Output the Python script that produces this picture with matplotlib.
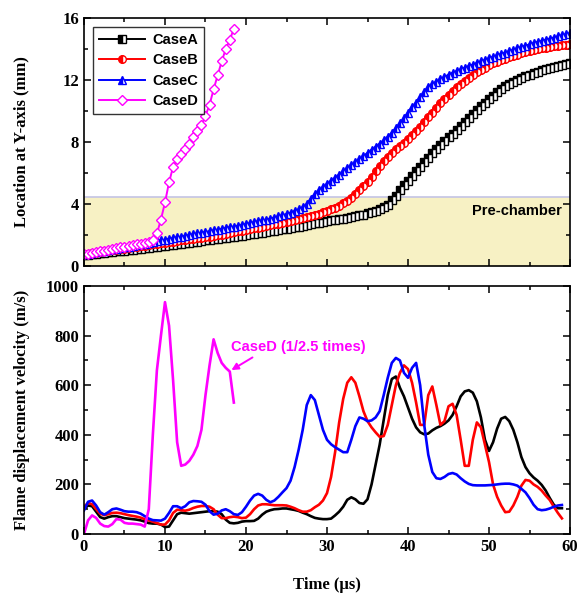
#!/usr/bin/env python3

import numpy as np
import matplotlib as mpl
import matplotlib.pyplot as plt
from matplotlib.ticker import MultipleLocator

# global plot style
mpl.rcParams['font.family'] = 'Liberation Serif'
mpl.rcParams['font.weight'] = 'bold'
mpl.rcParams['axes.linewidth'] = 1.2

# flame front location (mm), sampled every 0.5 us
time_pos = np.arange(0, 60.01, 0.5)
time_pos_d = np.arange(0, 18.51, 0.5)

loc_a = [0.70, 0.73, 0.76, 0.79, 0.82, 0.85, 0.88, 0.91, 0.94, 0.97, 1.00,
         1.03, 1.06, 1.09, 1.12, 1.15, 1.18, 1.21, 1.24, 1.27, 1.30,
         1.33, 1.37, 1.40, 1.44, 1.47, 1.51, 1.54, 1.58, 1.61, 1.65,
         1.68, 1.72, 1.75, 1.79, 1.82, 1.86, 1.89, 1.93, 1.96, 2.00,
         2.04, 2.08, 2.12, 2.16, 2.20, 2.24, 2.28, 2.32, 2.36, 2.40,
         2.45, 2.50, 2.55, 2.60, 2.65, 2.70, 2.75, 2.80, 2.85, 2.90,
         2.94, 2.98, 3.02, 3.06, 3.10, 3.15, 3.20, 3.26, 3.32, 3.40,
         3.47, 3.55, 3.65, 3.78, 3.95, 4.25, 4.55, 4.90, 5.20, 5.50,
         5.80, 6.10, 6.40, 6.70, 7.00, 7.30, 7.55, 7.80, 8.05, 8.30,
         8.55, 8.80, 9.05, 9.30, 9.55, 9.80, 10.05, 10.30, 10.55, 10.80,
         11.00, 11.20, 11.40, 11.60, 11.75, 11.90, 12.03, 12.15, 12.25, 12.35,
         12.45, 12.55, 12.63, 12.70, 12.78, 12.85, 12.92, 13.00, 13.05, 13.10]

loc_b = [0.75, 0.78, 0.82, 0.86, 0.90, 0.94, 0.98, 1.02, 1.06, 1.09, 1.12,
         1.16, 1.20, 1.24, 1.28, 1.32, 1.36, 1.40, 1.43, 1.46, 1.50,
         1.53, 1.57, 1.61, 1.65, 1.68, 1.72, 1.76, 1.79, 1.82, 1.86,
         1.90, 1.94, 1.98, 2.03, 2.08, 2.13, 2.18, 2.23, 2.28, 2.33,
         2.38, 2.43, 2.48, 2.53, 2.58, 2.63, 2.68, 2.73, 2.78, 2.84,
         2.90, 2.96, 3.02, 3.08, 3.15, 3.22, 3.30, 3.38, 3.46, 3.55,
         3.65, 3.77, 3.90, 4.05, 4.20, 4.40, 4.65, 4.90, 5.15, 5.45,
         5.75, 6.10, 6.45, 6.80, 7.05, 7.30, 7.55, 7.75, 7.95, 8.20,
         8.45, 8.70, 9.00, 9.30, 9.60, 9.90, 10.20, 10.50, 10.80, 11.05,
         11.30, 11.55, 11.75, 11.95, 12.15, 12.35, 12.50, 12.65, 12.80, 12.95,
         13.07, 13.18, 13.28, 13.38, 13.47, 13.56, 13.64, 13.72, 13.80, 13.87,
         13.93, 13.99, 14.04, 14.09, 14.13, 14.17, 14.21, 14.24, 14.27, 14.30]

loc_c = [0.75, 0.80, 0.85, 0.90, 0.95, 1.00, 1.04, 1.08, 1.12, 1.16, 1.20,
         1.25, 1.30, 1.35, 1.40, 1.45, 1.50, 1.55, 1.60, 1.65, 1.70,
         1.75, 1.80, 1.85, 1.90, 1.95, 2.00, 2.05, 2.10, 2.15, 2.20,
         2.25, 2.30, 2.35, 2.40, 2.45, 2.50, 2.55, 2.60, 2.65, 2.70,
         2.76, 2.82, 2.88, 2.94, 3.00, 3.06, 3.13, 3.20, 3.28, 3.36,
         3.45, 3.55, 3.65, 3.80, 4.00, 4.35, 4.65, 4.90, 5.10, 5.30,
         5.50, 5.70, 5.90, 6.10, 6.30, 6.50, 6.70, 6.90, 7.10, 7.30,
         7.50, 7.70, 7.90, 8.10, 8.35, 8.60, 8.90, 9.20, 9.55, 9.90,
         10.25, 10.55, 10.90, 11.25, 11.55, 11.75, 11.90, 12.05, 12.20, 12.35,
         12.47, 12.58, 12.69, 12.80, 12.90, 13.00, 13.10, 13.20, 13.30, 13.40,
         13.50, 13.59, 13.68, 13.77, 13.86, 13.95, 14.04, 14.13, 14.22, 14.30,
         14.38, 14.46, 14.53, 14.60, 14.67, 14.74, 14.81, 14.88, 14.95, 15.02]

loc_d = [0.75, 0.80, 0.85, 0.90, 0.95, 1.00, 1.05, 1.10, 1.15, 1.20, 1.25,
         1.30, 1.35, 1.40, 1.45, 1.50, 1.55, 1.65, 2.10, 3.00, 4.10, 5.40,
         6.40, 6.90, 7.20, 7.55, 7.90, 8.30, 8.70, 9.10, 9.70, 10.40, 11.40,
         12.30, 13.20, 14.00, 14.60, 15.30]

# flame displacement velocity (m/s), sampled every 0.5 us
time_vel = np.arange(0, 59.01, 0.5)
time_vel_d = np.arange(0, 18.51, 0.5)

vel_a = [100, 115, 112, 90, 68, 62, 68, 72, 72, 68, 64, 62, 60, 58, 55, 50,
         44, 42, 42, 38, 28, 30, 55, 80, 86, 84, 82, 84, 86, 88, 90, 92,
         92, 90, 80, 58, 45, 43, 45, 50, 52, 52, 53, 62, 78, 90, 96, 100,
         101, 103, 103, 100, 97, 93, 86, 80, 72, 65, 62, 60, 60, 62, 75, 90,
         110, 138, 148, 140, 125, 122, 140, 200, 280, 360, 460, 560, 625, 635,
         590, 555, 510, 465, 430, 410, 402, 405, 418, 428, 435, 445, 458, 480,
         515, 555, 575, 580, 570, 535, 470, 380, 335, 370, 425, 465, 472, 455,
         420, 370, 310, 270, 245, 228, 215, 198, 175, 145, 118, 104, 104]

vel_b = [110, 125, 120, 100, 82, 76, 80, 85, 86, 84, 80, 76, 73, 70, 66, 60,
         55, 50, 44, 38, 38, 55, 85, 98, 96, 94, 98, 105, 110, 113, 113, 110,
         100, 78, 64, 64, 68, 70, 68, 64, 66, 80, 100, 115, 120, 120, 118, 116,
         116, 116, 115, 110, 104, 96, 90, 90, 96, 108, 118, 135, 165, 230, 330,
         450, 545, 610, 632, 610, 555, 495, 455, 430, 410, 392, 395, 440, 520,
         600, 650, 680, 665, 610, 530, 440, 440, 560, 595, 520, 440, 455, 515,
         525, 480, 380, 275, 275, 380, 450, 430, 360, 290, 200, 150, 115, 88,
         90, 115, 150, 195, 218, 215, 200, 190, 175, 155, 137, 110, 85, 63]

vel_c = [95, 130, 135, 115, 88, 78, 88, 100, 103, 98, 92, 90, 90, 88, 82, 72,
         62, 56, 55, 54, 62, 85, 112, 112, 104, 112, 128, 133, 132, 130, 118,
         92, 78, 82, 95, 100, 92, 80, 77, 88, 110, 135, 155, 162, 155, 138,
         128, 135, 150, 168, 185, 215, 270, 340, 420, 520, 560, 540, 480, 420,
         380, 362, 350, 340, 330, 330, 380, 435, 470, 465, 455, 458, 470, 495,
         560, 630, 690, 710, 700, 650, 630, 670, 690, 600, 440, 320, 250, 225,
         222, 230, 242, 246, 240, 225, 212, 202, 197, 196, 196, 196, 197, 198,
         200, 202, 203, 203, 200, 195, 182, 168, 145, 118, 100, 96, 98, 103,
         110, 115, 117]

vel_d = [0, 55, 75, 65, 42, 32, 30, 40, 60, 58, 45, 42, 42, 40, 38, 30,
         100, 400, 660, 800, 935, 840, 620, 370, 275, 280, 295, 320, 355, 420,
         560, 680, 785, 730, 690, 670, 655, 530]

case_names = ['CaseA', 'CaseB', 'CaseC', 'CaseD']
case_colors = ['black', '#ff0000', '#0000ff', '#ff00ff']
case_markers = ['s', 'o', '^', 'D']


def style_axis(ax):
    ax.tick_params(which='both', direction='in', top=True, right=True,
                   width=1.1, labelsize=12)
    ax.tick_params(which='major', length=5)
    ax.tick_params(which='minor', length=3)
    for lbl in ax.get_xticklabels() + ax.get_yticklabels():
        lbl.set_fontweight('bold')


def main():
    fig = plt.figure(figsize=(5.78, 5.95), dpi=100)
    ax1 = fig.add_axes([0.1453, 0.5529, 0.8409, 0.4168])
    ax2 = fig.add_axes([0.1453, 0.1025, 0.8409, 0.4168])

    # --- top: location
    ax1.axhspan(0, 4.45, facecolor='#f7f1c4', edgecolor='none', zorder=0)
    ax1.axhline(4.45, color='#c4c4e4', lw=1.2, zorder=0.5)
    ax1.text(59, 3.55, 'Pre-chamber', family='Liberation Sans',
             fontweight='bold', fontsize=10.5, ha='right', va='center')

    locs = [loc_a, loc_b, loc_c, loc_d]
    times = [time_pos, time_pos, time_pos, time_pos_d]
    for i in range(4):
        if i < 3:
            ax1.plot(times[i], locs[i], color=case_colors[i], lw=1.4,
                     marker=case_markers[i], ms=5.5, mew=1.0,
                     fillstyle='left', markerfacecoloralt='white',
                     label=case_names[i])
        else:
            ax1.plot(times[i], locs[i], color=case_colors[i], lw=1.4,
                     marker=case_markers[i], ms=5.5, mew=1.0,
                     markerfacecolor='white', label=case_names[i])

    ax1.set_xlim(0, 60)
    ax1.set_ylim(0, 16)
    ax1.xaxis.set_major_locator(MultipleLocator(10))
    ax1.xaxis.set_minor_locator(MultipleLocator(5))
    ax1.yaxis.set_major_locator(MultipleLocator(4))
    ax1.yaxis.set_minor_locator(MultipleLocator(2))
    ax1.set_xticklabels([])
    ax1.set_ylabel('Location at Y-axis (mm)', fontsize=12, fontweight='bold')
    ax1.yaxis.set_label_coords(-0.112, 0.5)
    style_axis(ax1)

    leg = ax1.legend(loc='upper left', prop={'family': 'Liberation Sans',
                                             'weight': 'bold', 'size': 10.5},
                     frameon=True, fancybox=False, edgecolor='black',
                     handlelength=3.2, borderaxespad=0.6, labelspacing=0.45,
                     handletextpad=0.5)
    leg.get_frame().set_linewidth(1.0)

    # --- bottom: velocity
    vels = [vel_a, vel_b, vel_c, vel_d]
    vtimes = [time_vel, time_vel, time_vel, time_vel_d]
    for i in range(4):
        ax2.plot(vtimes[i], vels[i], color=case_colors[i], lw=1.9)

    ax2.annotate('CaseD (1/2.5 times)', xy=(18.2, 661), xytext=(18.2, 754),
                 color='#ff00ff', family='Liberation Sans', fontweight='bold',
                 fontsize=10.5, ha='left', va='center')
    ax2.annotate('', xy=(18.2, 661), xytext=(20.8, 712),
                 arrowprops=dict(arrowstyle='-|>', color='#ff00ff', lw=1.4,
                                 mutation_scale=10, shrinkA=0, shrinkB=0))

    ax2.set_xlim(0, 60)
    ax2.set_ylim(0, 1000)
    ax2.xaxis.set_major_locator(MultipleLocator(10))
    ax2.xaxis.set_minor_locator(MultipleLocator(5))
    ax2.yaxis.set_major_locator(MultipleLocator(200))
    ax2.yaxis.set_minor_locator(MultipleLocator(100))
    ax2.set_ylabel('Flame displacement velocity (m/s)', fontsize=12,
                   fontweight='bold')
    ax2.yaxis.set_label_coords(-0.112, 0.5)
    ax2.set_xlabel('Time (\u03bcs)', fontsize=12, fontweight='bold')
    ax2.xaxis.set_label_coords(0.5, -0.175)
    style_axis(ax2)

    fig.savefig('out.png', dpi=100)


if __name__ == '__main__':
    main()
